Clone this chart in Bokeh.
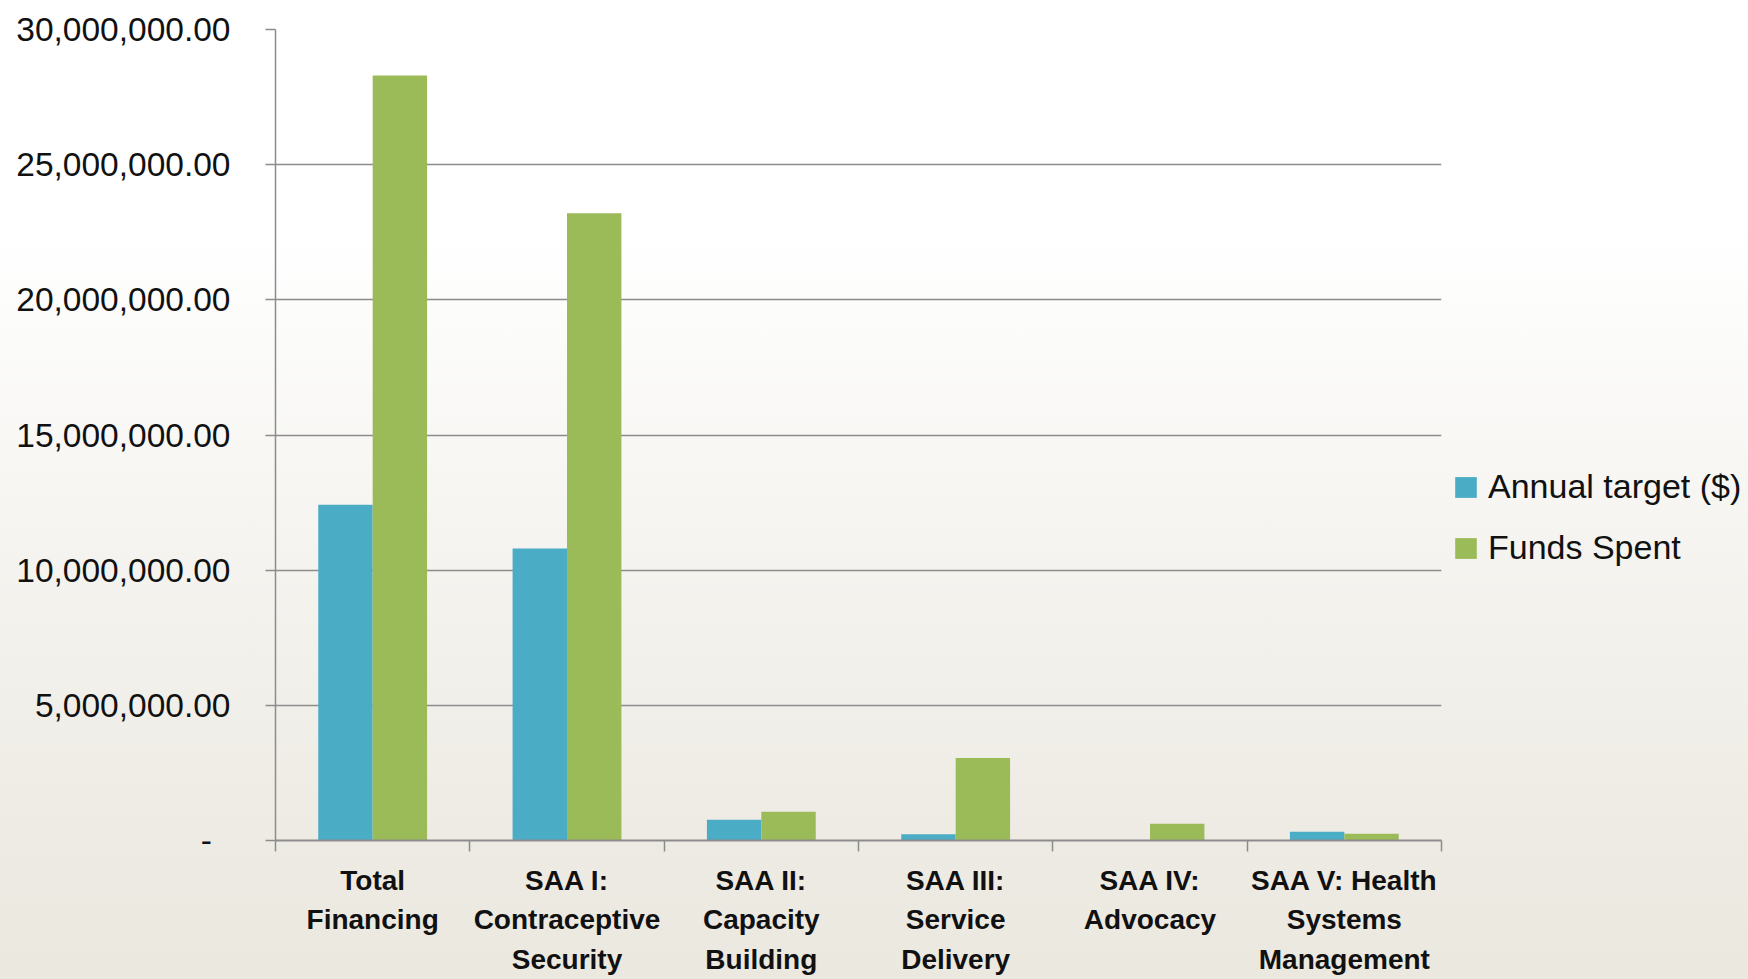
from bokeh.plotting import figure
from bokeh.layouts import row
from bokeh.models import (FactorRange, LinearAxis, FixedTicker, SingleIntervalTicker,
                          NumeralTickFormatter, Legend, LegendItem, ColumnDataSource, Range1d)
from bokeh.transform import dodge
from bokeh.embed import file_html
from bokeh.resources import INLINE

# ---- data ----
categories = ["Total Financing", "SAA I: Contraceptive Security", "SAA II: Capacity Building",
              "SAA III: Service Delivery", "SAA IV: Advocacy", "SAA V: Health Systems Management"]
tick_labels = ["Total\nFinancing", "SAA I:\nContraceptive\nSecurity", "SAA II:\nCapacity\nBuilding",
               "SAA III:\nService\nDelivery", "SAA IV:\nAdvocacy", "SAA V: Health\nSystems\nManagement"]
annual_target = [12_420_000, 10_800_000, 770_000, 230_000, 10_000, 320_000]
funds_spent = [28_300_000, 23_200_000, 1_060_000, 3_050_000, 620_000, 250_000]
series_names = ["Annual target ($)", "Funds Spent"]
series_colors = ["#4BACC6", "#9BBB59"]
y_max = 30_000_000
y_step = 5_000_000

src = ColumnDataSource(dict(cat=categories, target=annual_target, spent=funds_spent))

GRAY = "#8c8c8c"
FONT = "Liberation Sans"
BG = "linear-gradient(to bottom, #ffffff 0%, #ffffff 24%, #f5f4f0 55%, #eeebe4 85%, #ebe8e0 100%)"

p = figure(width=1448, height=979, x_range=FactorRange(*categories), y_range=Range1d(0, y_max),
           output_backend="svg", toolbar_location=None, x_axis_location=None,
           min_border_left=275, min_border_right=7, min_border_top=29, min_border_bottom=139)
p.styles = {"background": BG}
p.background_fill_color = None
p.border_fill_color = None
p.outline_line_color = None

r1 = p.vbar(x=dodge("cat", -0.14, range=p.x_range), top="target", width=0.28, source=src,
            fill_color=series_colors[0], line_color=None)
r2 = p.vbar(x=dodge("cat", 0.14, range=p.x_range), top="spent", width=0.28, source=src,
            fill_color=series_colors[1], line_color=None)

# y axis
ya = p.yaxis[0]
ya.ticker = SingleIntervalTicker(interval=y_step)
ya.formatter = NumeralTickFormatter(format="0,0.00")
ya.major_label_overrides = {0: "-\u00a0\u00a0"}
ya.major_label_text_font = FONT
ya.major_label_text_font_size = "33.5px"
ya.major_label_text_color = "#111111"
ya.major_tick_out = 10
ya.major_tick_in = 0
ya.major_tick_line_color = GRAY
ya.major_tick_line_width = 1.5
ya.minor_tick_line_color = None
ya.axis_line_color = GRAY
ya.axis_line_width = 1.5
ya.major_label_standoff = 35

p.xgrid.visible = False
p.ygrid.grid_line_color = GRAY
p.ygrid.grid_line_width = 1.5
p.ygrid.ticker = ya.ticker

# x axis: labels at category centres, ticks at category boundaries
n = len(categories)
xa = LinearAxis(ticker=FixedTicker(ticks=[i + 0.5 for i in range(n)], minor_ticks=list(range(n + 1))))
xa.major_label_overrides = {i + 0.5: lab for i, lab in enumerate(tick_labels)}
xa.major_label_text_font = FONT
xa.major_label_text_font_style = "bold"
xa.major_label_text_font_size = "28px"
xa.major_label_text_line_height = 1.28
xa.major_label_text_color = "#111111"
xa.major_tick_line_color = None
xa.major_tick_out = 0
xa.major_tick_in = 0
xa.minor_tick_out = 11
xa.minor_tick_in = 0
xa.minor_tick_line_color = GRAY
xa.minor_tick_line_width = 1.5
xa.axis_line_color = GRAY
xa.axis_line_width = 2
xa.major_label_standoff = 13
p.add_layout(xa, "below")

# legend panel (separate figure so the legend is not clipped by the plot frame)
lg = figure(width=300, height=979, output_backend="svg", toolbar_location=None,
            x_axis_location=None, y_axis_location=None,
            min_border_left=0, min_border_right=0, min_border_top=0, min_border_bottom=0)
lg.styles = {"background": BG}
lg.background_fill_color = None
lg.border_fill_color = None
lg.outline_line_color = None
lg.grid.visible = False
# zero-height legend proxies (they draw nothing themselves)
k1 = lg.vbar(x=[0], top=[0], width=0, fill_color=series_colors[0], line_color=None)
k2 = lg.vbar(x=[0], top=[0], width=0, fill_color=series_colors[1], line_color=None)

legend = Legend(items=[LegendItem(label=series_names[0], renderers=[k1]),
                       LegendItem(label=series_names[1], renderers=[k2])],
                location=(4, 273))
legend.label_text_font = FONT
legend.label_text_font_size = "34px"
legend.label_text_color = "#111111"
legend.glyph_width = 27
legend.glyph_height = 26
legend.label_standoff = 9
legend.spacing = 22
legend.padding = 0
legend.margin = 0
legend.border_line_color = None
legend.background_fill_alpha = 0
lg.add_layout(legend, "center")

layout = row(p, lg)
open("out.html", "w").write(file_html(layout, INLINE))
